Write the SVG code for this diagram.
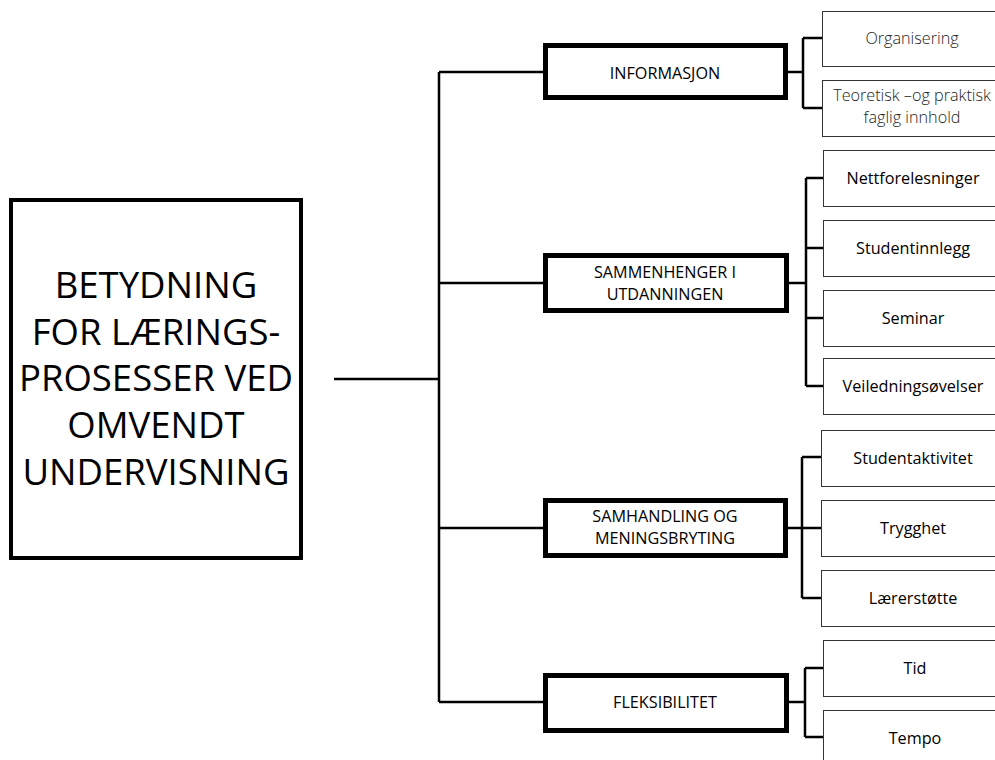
<svg xmlns="http://www.w3.org/2000/svg" width="995" height="760" viewBox="0 0 995 760">
<style>
text{font-family:"Open Sans","Liberation Sans",sans-serif;fill:#000;text-anchor:middle}
.main{fill:#fff;stroke:#000;stroke-width:4}
.mid{fill:#fff;stroke:#000;stroke-width:5}
.leaf{fill:#fff;stroke:#333;stroke-width:1}
.mt{font-size:36.5px}
.md{font-size:16.2px}
.lf{font-size:16.2px}
.lt{font-weight:300;fill:#222}
.c{fill:none;stroke:#000;stroke-width:2.5}
</style>
<rect width="995" height="760" fill="#fff"/>
<g id="connectors">
<path class="c" d="M334 379H439M439 72V702M439 72H545M439 283H545M439 528H545M439 702H545"/>
<path class="c" d="M785 72H803M803 38V108M803 38H822M803 108H822"/>
<path class="c" d="M787 283H806M806 178V386M806 178H823M806 248H823M806 318H823M806 386H823"/>
<path class="c" d="M785 528H802M802 457V598M802 457H821M802 528H821M802 598H821"/>
<path class="c" d="M787 702H805M805 668V737M805 668H823M805 737H823"/>
</g>
<g id="main">
<rect class="main" x="11" y="200" width="290" height="358"/>
<text class="mt" x="156" y="298">BETYDNING</text>
<text class="mt" x="156" y="345">FOR LÆRINGS-</text>
<text class="mt" x="156" y="391">PROSESSER VED</text>
<text class="mt" x="156" y="438">OMVENDT</text>
<text class="mt" x="156" y="485">UNDERVISNING</text>
</g>
<g id="informasjon">
<rect class="mid" x="545.5" y="45.5" width="240" height="52"/>
<text class="md" x="665" y="79">INFORMASJON</text>
</g>
<g id="sammenhenger">
<rect class="mid" x="545.5" y="255.5" width="241" height="55"/>
<text class="md" x="665" y="278">SAMMENHENGER I</text>
<text class="md" x="665" y="300">UTDANNINGEN</text>
</g>
<g id="samhandling">
<rect class="mid" x="545.5" y="500.5" width="240" height="55"/>
<text class="md" x="665" y="522">SAMHANDLING OG</text>
<text class="md" x="665" y="544">MENINGSBRYTING</text>
</g>
<g id="fleksibilitet">
<rect class="mid" x="545.5" y="675.5" width="241" height="55"/>
<text class="md" x="665" y="708">FLEKSIBILITET</text>
</g>
<g id="organisering">
<rect class="leaf" x="822.5" y="11.5" width="180" height="55"/>
<text class="lf lt" x="912" y="44">Organisering</text>
</g>
<g id="teoretisk">
<rect class="leaf" x="822.5" y="80.5" width="180" height="56"/>
<text class="lf lt" x="912" y="101">Teoretisk –og praktisk</text>
<text class="lf lt" x="912" y="123">faglig innhold</text>
</g>
<g id="nettforelesninger">
<rect class="leaf" x="823.5" y="150.5" width="180" height="56"/>
<text class="lf" x="913" y="184">Nettforelesninger</text>
</g>
<g id="studentinnlegg">
<rect class="leaf" x="823.5" y="220.5" width="180" height="56"/>
<text class="lf" x="913" y="254">Studentinnlegg</text>
</g>
<g id="seminar">
<rect class="leaf" x="823.5" y="290.5" width="180" height="56"/>
<text class="lf" x="913" y="324">Seminar</text>
</g>
<g id="veiledningsovelser">
<rect class="leaf" x="823.5" y="358.5" width="180" height="56"/>
<text class="lf" x="913" y="392">Veiledningsøvelser</text>
</g>
<g id="studentaktivitet">
<rect class="leaf" x="821.5" y="430.5" width="180" height="56"/>
<text class="lf" x="913" y="464">Studentaktivitet</text>
</g>
<g id="trygghet">
<rect class="leaf" x="821.5" y="500.5" width="180" height="56"/>
<text class="lf" x="913" y="534">Trygghet</text>
</g>
<g id="laererstotte">
<rect class="leaf" x="821.5" y="570.5" width="180" height="56"/>
<text class="lf" x="913" y="604">Lærerstøtte</text>
</g>
<g id="tid">
<rect class="leaf" x="823.5" y="640.5" width="180" height="56"/>
<text class="lf" x="915" y="674">Tid</text>
</g>
<g id="tempo">
<rect class="leaf" x="823.5" y="710.5" width="180" height="56"/>
<text class="lf" x="915" y="744">Tempo</text>
</g>
</svg>
